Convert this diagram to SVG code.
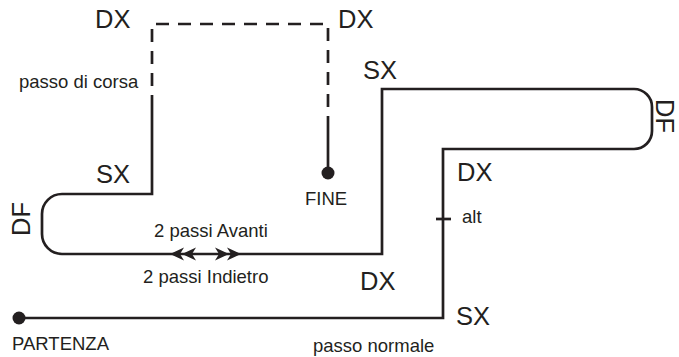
<svg xmlns="http://www.w3.org/2000/svg" width="679" height="357" viewBox="0 0 679 357">
<style>
text{font-family:"Liberation Sans",Arial,sans-serif;fill:#231f20}
.big{font-size:25.5px}
.sm{font-size:18.5px}
.ln{fill:none;stroke:#231f20;stroke-width:2.7}
.dash{fill:none;stroke:#231f20;stroke-width:2.7;stroke-dasharray:13 9}
.ah{fill:#231f20}
</style>
<rect width="679" height="357" fill="#fff"/>
<g id="connectors">
<path class="ln" d="M20 318 H443 V149 H634 A18 18 0 0 0 652 131 V107 A18 18 0 0 0 634 89 H382 V254 H62 A20 20 0 0 1 42 234 V214 A20 20 0 0 1 62 194 H152 V108"/>
<path class="dash" d="M152 108 V24 H328 V120"/>
<path class="ln" d="M328 120 V173"/>
<path class="ln" d="M436 219 H451"/>
<polygon class="ah" points="170,254 184,247.5 180,254 184,260.5"/>
<polygon class="ah" points="182,254 196,247.5 192,254 196,260.5"/>
<polygon class="ah" points="241,254 227,247.5 231,254 227,260.5"/>
<polygon class="ah" points="229,254 215,247.5 219,254 215,260.5"/>
</g>
<g id="partenza"><circle cx="19" cy="318" r="6.5" fill="#231f20"/><text class="sm" x="12" y="350">PARTENZA</text></g>
<g id="fine"><circle cx="328" cy="173" r="6.5" fill="#231f20"/><text class="sm" x="305" y="205">FINE</text></g>
<g id="labels">
<text class="big" x="95" y="28">DX</text>
<text class="big" x="338" y="28">DX</text>
<text class="sm" x="19" y="88">passo di corsa</text>
<text class="big" x="96" y="183">SX</text>
<text class="big" x="363" y="79">SX</text>
<text class="big" x="457" y="181">DX</text>
<text class="sm" x="462" y="223">alt</text>
<text class="sm" x="154" y="237">2 passi Avanti</text>
<text class="sm" x="143" y="283">2 passi Indietro</text>
<text class="big" x="360" y="290">DX</text>
<text class="big" x="456" y="325">SX</text>
<text class="sm" x="313" y="352">passo normale</text>
<text class="big" text-anchor="middle" transform="translate(30,219) rotate(-90)">DF</text>
<text class="big" text-anchor="middle" transform="translate(656,116) rotate(90)">DF</text>
</g>
</svg>
